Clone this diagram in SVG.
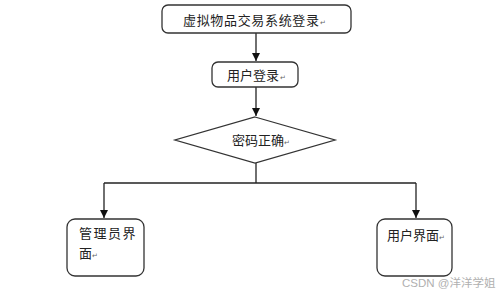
<svg xmlns="http://www.w3.org/2000/svg" width="499" height="294" viewBox="0 0 499 294">
<defs>
<style>
.box{fill:#fff;stroke:#333;stroke-width:1.3}
.t{font-family:"Noto Sans CJK SC","Liberation Sans",sans-serif;font-size:13px;fill:#222}
.rm{font-size:7px;fill:#666}
.ln{fill:none;stroke:#222;stroke-width:1.3}
.wm{font-family:"Liberation Sans","Noto Sans CJK SC",sans-serif;font-size:11.5px;fill:#b0b0b0}
</style>
<marker id="ah" viewBox="0 0 10 10" refX="10" refY="5" markerWidth="8" markerHeight="8" markerUnits="userSpaceOnUse" orient="auto">
<path d="M0,0 L10,5 L0,10 Z" fill="#111"/>
</marker>
</defs>
<rect width="499" height="294" fill="#fff"/>
<g id="connectors">
<path class="ln" d="M256,33 V61" marker-end="url(#ah)"/>
<path class="ln" d="M256,87 V116" marker-end="url(#ah)"/>
<path class="ln" d="M256,163 V183"/>
<path class="ln" d="M104,183 H416"/>
<path class="ln" d="M104,183 V218" marker-end="url(#ah)"/>
<path class="ln" d="M416,183 V218" marker-end="url(#ah)"/>
</g>
<g id="n1">
<rect class="box" x="162" y="5" width="189" height="28" rx="6"/>
<text class="t" x="183" y="25" font-size="14" textLength="136">虚拟物品交易系统登录</text><text class="t rm" x="320" y="25">↵</text>
</g>
<g id="n2">
<rect class="box" x="212" y="62" width="86" height="25" rx="6"/>
<text class="t" x="227" y="80">用户登录</text><text class="t rm" x="280" y="80">↵</text>
</g>
<g id="n3">
<polygon class="box" points="255,117 335,140 255,163 175,140"/>
<text class="t" x="232" y="145">密码正确</text><text class="t rm" x="284" y="145">↵</text>
</g>
<g id="n4">
<rect class="box" x="67" y="219" width="77" height="57" rx="8"/>
<text class="t" x="79" y="238" letter-spacing="1.5">管理员界</text>
<text class="t" x="79" y="258">面</text><text class="t rm" x="92" y="258">↵</text>
</g>
<g id="n5">
<rect class="box" x="377" y="219" width="75" height="57" rx="8"/>
<text class="t" x="387" y="240">用户界面</text><text class="t rm" x="439" y="240">↵</text>
</g>
<text class="wm" x="402" y="287">CSDN @洋洋学姐</text>
</svg>
